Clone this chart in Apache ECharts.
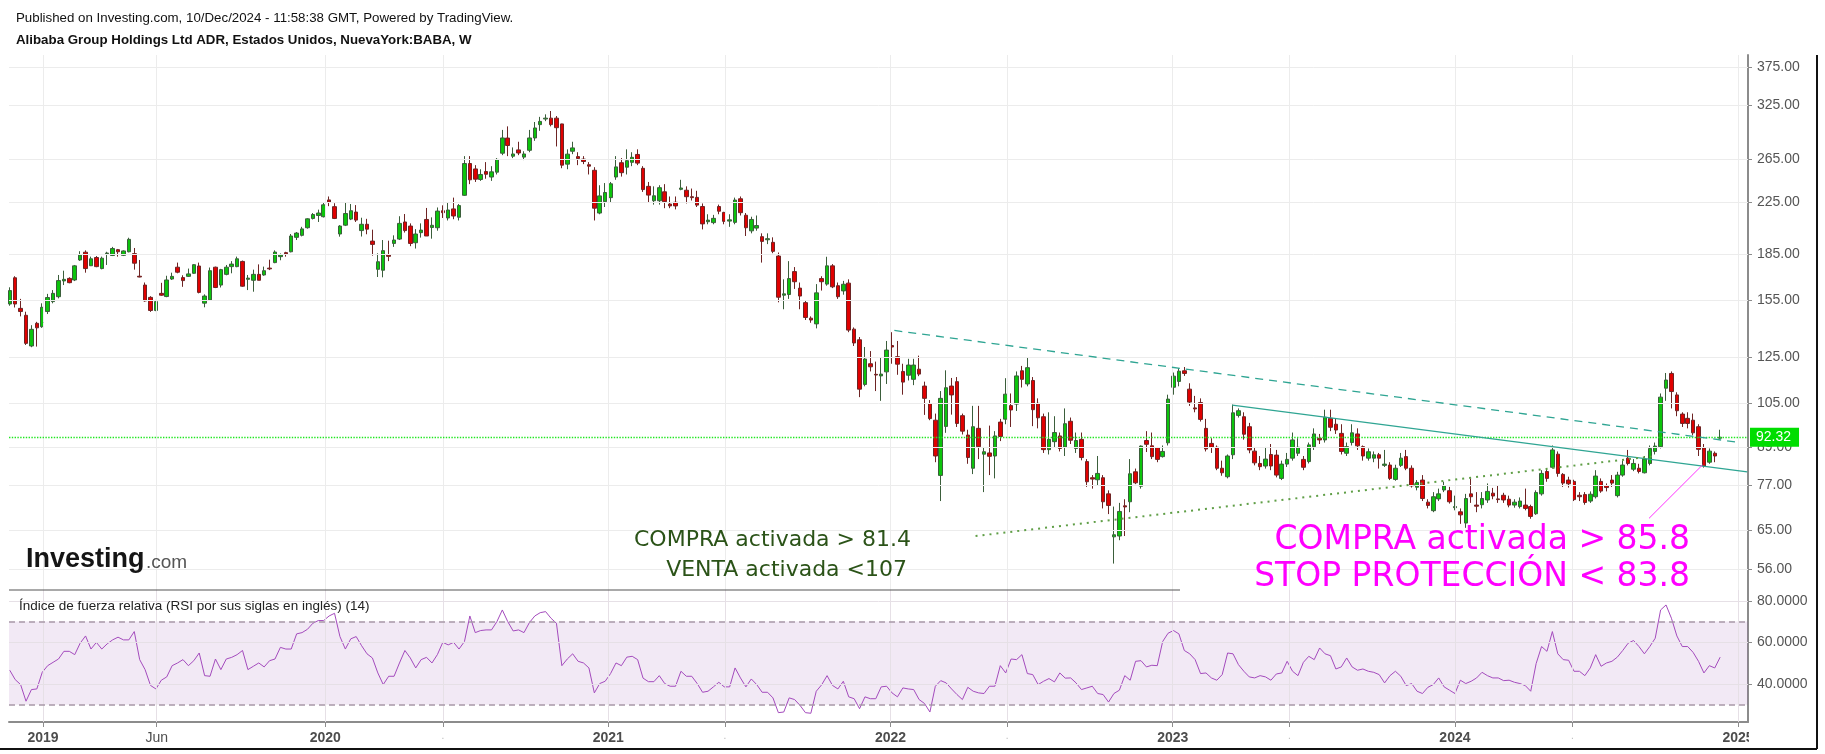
<!DOCTYPE html>
<html><head><meta charset="utf-8">
<script src="https://cdn.jsdelivr.net/npm/echarts@6/dist/echarts.min.js"></script>
<style>html,body{margin:0;padding:0;background:#fff}#c{width:1825px;height:754px}</style>
</head><body><div id="c"></div><script>
// ---- DATA ----
const firstWeek = '2018-11-19';
// weekly candles [open, close, low, high]
const ohlc2018 = [[153,161,152,163],[169,153,151,170],[150.5,148.7,146,156],[146.6,131.8,131,148.6],[130.5,139,129.9,141.2],[142.2,139.8,130.2,143]];
const ohlc2019 = [[140.4,151.1,139.8,153.4],[148.7,156.8,147.3,159],[154.4,159.3,153.4,161.3],[157.3,167.2,156.3,170.8],[167,168,164.4,173.6],[168.6,165.9,165.5,169.3],[167.6,176.8,166.9,177.4],[180.8,184.2,180.2,186.9],[186.2,175,172.3,187.5],[176.9,181.6,176.7,183.1],[182.5,176.3,175.9,183.5],[175,182,174.5,183.1],[185.2,185.6,177.4,186.5],[183.9,188.8,183.5,190],[188,186.5,183.1,188.5],[184,187.1,183.5,187.5],[186.5,195.5,186.1,196.7],[185.2,178.6,174.3,189.2],[170,169.5,169.3,180.8],[164.4,154.8,154.4,166],[156.9,149.3,148.5,157.6],[149.3,154.4,148.9,155.4],[159.3,158.2,157.8,165.8],[157.4,167.6,157,170.3],[168.2,169.9,167.6,172.3],[175.9,172.6,171.9,179],[169.1,167.2,163.3,170.6],[169.9,171.5,169.5,175],[171.9,177.6,171.5,178],[176.7,159.9,159.3,179],[153.5,157.7,151.1,158.7],[155.4,173.6,155,175.7],[175.9,162.9,162.5,176.3],[164.4,174.3,162.9,174.8],[171.2,175.9,170.6,177.4],[176.3,178,171.9,180],[176.3,181.6,175.9,183.1],[179.8,163.7,163.3,180.4],[168,168.8,161.3,170.8],[167.4,171.2,160.3,174.3],[171.2,167.4,167.4,177.8],[170.8,173.6,170.3,176.3],[175.3,174.8,174,181],[179,186.3,178.6,187.5],[183.1,184.3,180.6,185.3],[185.9,185,183.1,186.5],[186.5,198,186.1,199.5],[197,200.2,195,201],[198.5,203.4,197.7,205],[204.3,211.3,203.6,211.8],[211.6,214.8,210.8,216],[214,216,208.8,218.8]];
const ohlc2020 = [[213,222.8,212.4,224.7],[227,225.2,221.7,230],[221.3,211.6,211.1,224.2],[199.5,205.6,197.5,206.3],[206.3,215.6,205.6,224.7],[211.1,217.9,210.3,223.5],[216.8,210.3,208.8,222.6],[202.1,207,197.6,212.2],[207,203.2,199.3,211.3],[194.2,191.8,183.8,202.8],[174.5,179.6,169.5,185.4],[173.9,187.3,169.3,195],[184.2,183.3,180,194.5],[192.5,195,190,198.5],[195.7,207.7,195,213.4],[208.8,202.1,200.6,215.2],[205.6,192.5,190.5,207.7],[193,199.5,188.8,203.2],[200.5,202.5,196.8,207.7],[210.8,198,198,220.2],[204.5,206.2,196,212.5],[204.3,217.6,202,220.6],[217.9,216.3,212,222.4],[212,218.5,210,224.5],[219.4,213.6,211,229],[212.6,222.2,210,223.5],[231,260.6,230.5,268],[260.6,245,241,268],[255.3,245.6,243,259],[245.3,250,244,255],[252.8,250.2,246,262],[247.6,252.5,244,258],[252.2,264.7,250,266],[271,287.1,269,296],[287,279,268,300],[267.9,270.2,266,277],[274.4,271.2,269,283],[267,270.2,264,273],[274,287.1,272,296],[287.1,298.2,284,305],[302,305.7,295,311],[308.5,309.5,306,314],[309.5,302,300,318],[309.5,298.5,278,312],[302.8,259,256,303],[260,270,255,275],[273,276.5,270,283],[267.5,265.5,259,272],[265,262.6,260,268],[259.4,258,250,262],[254,220,210,257],[216,230.5,215,240]];
const ohlc2021 = [[225.5,233.5,221,242],[229,241.3,225,243],[247.6,257.3,245,268],[261.4,251.7,248,266],[257,263.4,250,275],[261.8,266.8,258,272],[269.7,261,259,275],[255.9,236.1,234,258],[239,231.2,225,243],[226.3,230.6,223,239],[226.3,237.8,223,240],[234.1,225.5,220,241],[223.5,221.9,220,230],[225,221.9,219,230],[236.3,237.5,235.5,245],[235.5,229.8,224,239],[229.8,229,226.5,237],[229.2,222.6,221,235],[221.4,207.3,203,224],[209,210.3,207,215],[208.3,211.7,207,214.5],[221.4,217.5,215,223],[216.5,209.3,207,217],[209.5,210.5,205,215],[208.5,226.9,207,229],[228,216.3,214,230],[214.2,204.3,198,216],[201.9,210.8,200,213],[204,206,202,214],[197.5,194,179,200],[195.2,196,192,200],[193.3,186.8,185.5,197],[183.5,157,154,186],[158.2,159,150,168],[158.6,168.5,156,180],[173,166.5,162,176],[162.5,157.7,150,166],[153.8,145.4,144,155],[145,144,142.5,146],[141.9,159.6,139.5,165],[168.5,166.5,161,170],[165,176.8,164,183],[176.8,163.3,162.5,178],[164,157.3,156,166],[160.8,164.9,158.5,167],[165.6,138.6,137.5,168],[139.1,132,130.5,140],[133.6,110.8,107.5,135],[112.8,124.2,112,130],[122,120.6,118.5,128],[117.2,116.9,110,123],[116.5,117.3,106,125],[118.3,128.5,113,133]];
const ohlc2022 = [[130.7,130,122,137.5],[125.3,121.8,117,133],[118.5,113.8,108.5,122],[116.8,121.4,114.5,124.3],[115,121.4,112.5,124.3],[119.5,117.3,116.4,125.8],[112.1,107,100.5,114],[104.9,99.1,98.5,106.3],[98.5,86,84,101],[79.9,107,72.5,110],[96.2,111.4,93.9,119],[112.1,108.4,100.6,115.6],[114,97.3,96,116],[100.2,94.5,93.3,101],[93.1,85.5,83.5,95],[82.1,96.1,80.3,104],[95.5,89.1,85,104],[86.6,87.4,75,89],[87,85.9,80,96.5],[86,92.8,79,94.5],[97.8,92.6,91,99],[98.9,108.7,97,115.5],[104.1,102.4,96,109],[104.7,116.5,102,118.5],[118.8,115,111.5,121],[113,120.2,112,125],[114.5,102.5,96.3,116],[105,99.4,95.5,107],[99.8,88.1,87,101],[88.1,91.6,86.5,101.5],[90.8,94,89,100],[92.8,88.5,87.5,94],[89,97.2,86,103],[98.1,91.3,90,99.5],[88.5,91.2,87,94],[91.6,85.5,84.6,94],[84.2,78,76.5,85],[79.2,78.8,76,80],[78.6,80.5,77,86],[79.2,72.3,70.5,80],[74.5,71.3,69,75.5],[63.3,63.8,57.2,71],[63.5,69.7,62.5,72],[71.2,70.9,63.5,73],[72.3,80.4,69.5,85],[81,77.7,77.3,82],[76.7,89.3,76,89.5],[91.2,89.9,87.3,94.5],[89.4,85.8,85,94],[88.8,84.9,84,89],[85.8,87.5,85.5,89.5],[90.4,106.7,89.5,108.5]];
const ohlc2023 = [[111.6,116.4,108.5,118],[114.1,118.6,112,120],[118.8,117.6,116.5,120.5],[110.8,105.5,104,113.3],[103.2,102.8,101.5,108],[105.3,98.8,98,107],[95.5,88.3,87.5,99],[90.2,88.9,87,92],[88.9,82.1,81.5,89.5],[82.1,80.7,79.8,84.5],[79.5,86,79,86.5],[86.4,101.3,85,104.5],[100.3,102.1,99.5,103],[99.8,93.4,91.5,101.5],[96.1,88,86.9,97.5],[87.6,83.8,83,89],[83.6,82.6,81.5,86],[82.8,85,82,89],[86.5,82.8,81.5,90],[86.3,80,79.3,88],[79,83.4,78.5,84.5],[83.4,84.9,82.5,87],[85.3,91.4,84.5,94],[86.9,88.9,86,92],[84.9,82.4,81.5,86],[84.2,89.7,83.6,90.5],[89.1,93.5,88,95.5],[92,91.4,90,93.5],[91.4,99.6,90.5,102.5],[99.2,95.9,94.5,102.5],[97,94.9,93.5,99],[93.7,87.5,86.5,97],[86.9,89.1,86,90.5],[90.5,93.9,89.5,97],[93.5,89.4,88,95.5],[89.1,86,84.5,89.5],[85.3,87.4,84.5,88.5],[85.3,86.4,84,87.5],[86.4,85.3,82,87],[83,83.4,82.5,88],[83.1,79,78.5,84],[78.7,82.1,78.3,83.2],[83,85.3,82.5,87],[85.8,82.1,81.5,88],[82.1,76.8,76.3,83],[76.4,77.8,75.5,78.5],[78.5,73.2,72.5,80],[72.2,71.3,70.5,73],[69.9,73.7,69.5,75],[73.1,74.5,72.5,76],[75.6,76.8,75,78],[75.4,72.3,71.8,76.5]];
const ohlc2024 = [[70.7,71,70,74],[69.6,68.8,66.5,70.5],[66.7,73.2,65.5,74.5],[74.5,73.7,72,79],[71.4,71.1,69.5,75],[71.5,73.2,70.5,75],[72.8,75.2,72,77.5],[74.7,73.9,73,76.2],[73.1,72.9,72,77],[74.1,72.8,72,74.8],[73,71.4,70.8,74],[71.4,72.2,70.7,73],[71,72.5,70.5,73.5],[71.4,70.5,70,76],[71,68.4,67.8,71.5],[69.1,74.9,68.8,75.5],[74.5,80.5,74,81.5],[81.1,79,78,82],[82.4,88,82,89.5],[86.6,80.5,79.5,87.5],[80.2,77.6,76.5,80.6],[78.5,77.4,76.3,79.5],[78.1,72.9,72.5,78.6],[74.1,73.7,72.5,75],[74.3,72.1,71.5,75],[72.5,74.4,72,75.2],[73.7,79.7,73.2,81.5],[78.1,75.3,74.8,79],[76.9,76.3,75.2,77.5],[78.5,77.6,76.5,80],[74,80,73.5,81],[80,83.1,79.5,84.5],[85.3,83.6,83,88],[81.8,83.6,81.2,85],[82.1,81.1,80.5,83.5],[80.7,85,80.5,86],[83.6,88.5,83,89.5],[87.5,89.3,86.5,90.5],[89.1,107.5,88.5,109],[111.2,114.7,106,117.8],[117.6,109.8,103,118.5],[108.4,102.1,100,109.5],[100.8,97.3,96,101.5],[99.2,97.3,95.5,101.5],[98.5,93.9,93,101],[96.1,88.2,86,97],[88.7,82.8,82.3,90],[84,87.6,83.5,88.5],[86.9,86,84,87.5],[92,92.32,91.8,95]];
// RSI(14) weekly
const rsi2018 = [46.6,42.1,39.7,31.7,37.3,37.6];
const rsi2019 = [45.6,48.8,50.4,52.0,55.7,55.7,54.1,59.6,63.1,56.8,60.0,56.8,59.3,61.2,62.5,61.2,61.2,65.2,51.7,46.9,39.3,37.6,41.8,43.4,48.8,50.1,51.7,48.8,51.2,54.9,44.0,43.7,52.0,46.9,52.0,52.8,54.1,56.1,46.9,48.5,50.1,48.2,51.2,52.0,57.6,56.8,56.8,64.1,64.7,66.3,69.2,70.5];
const rsi2020 = [70.5,72.7,74.0,62.8,56.8,61.7,62.8,58.4,54.5,52.5,45.3,39.7,43.7,43.7,50.1,56.1,52.5,47.7,51.7,52.8,50.1,54.1,60.0,58.8,60.0,56.8,60.4,72.7,64.7,65.7,66.0,66.0,70.0,75.6,70.0,65.5,66.0,64.7,69.5,72.7,74.3,74.8,71.6,69.2,48.8,52.0,54.5,50.9,50.1,47.7,35.7,40.2];
const rsi2021 = [41.3,45.0,50.1,48.8,52.9,53.3,51.7,42.8,41.1,41.1,44.0,40.2,38.9,38.9,46.1,43.7,43.7,40.2,36.0,36.5,38.6,40.8,38.6,38.6,47.7,42.9,38.6,42.4,39.7,36.0,36.0,33.3,26.2,26.5,33.3,32.5,29.7,26.2,25.9,36.5,39.6,44.0,39.3,37.6,41.3,33.8,32.9,28.1,33.8,32.9,32.9,38.6,38.9];
const rsi2022 = [35.7,33.8,38.1,37.6,37.3,32.5,30.6,26.5,38.9,41.6,40.5,37.6,34.9,32.5,38.4,36.5,35.7,35.4,38.9,38.9,48.8,45.3,52.0,51.7,54.1,45.0,44.5,39.7,41.3,42.6,41.0,45.3,42.8,42.9,40.5,37.3,38.1,38.9,35.4,34.9,31.3,35.4,37.0,44.0,41.8,50.9,51.2,48.2,49.0,48.8,60.4,64.4];
const rsi2023 = [65.7,64.1,56.1,54.5,51.7,45.0,45.3,42.9,41.8,44.5,54.9,54.5,49.3,46.1,43.4,42.9,44.0,43.4,41.8,44.8,45.3,50.9,46.1,44.0,50.4,53.3,51.7,57.3,54.5,53.6,47.2,48.2,52.5,48.2,46.6,47.2,46.1,45.6,44.5,40.5,44.0,46.1,43.7,39.2,40.2,36.5,35.4,38.4,39.7,42.9,38.6,37.0];
const rsi2024 = [35.4,41.8,40.2,41.3,42.9,45.6,44.0,42.9,42.9,41.6,41.8,40.8,40.2,39.2,36.5,49.8,58.0,55.7,65.2,54.5,51.7,51.4,46.1,46.1,44.0,47.7,54.1,48.5,50.1,50.9,52.9,56.1,59.6,60.9,58.0,54.5,58.0,62.0,75.6,78.0,71.6,63.1,58.0,58.0,55.2,50.9,45.3,48.8,47.7,52.9];
// axes / ticks
const priceTicks = [56,65,77,89,105,125,155,185,225,265,325,375];
const rsiTicks = [40,60,80];
const rsiBands = [30,70];
const xTickDates = ['2019-01-01','2019-05-28','2020-01-01','2020-06-01','2021-01-01','2021-06-01','2022-01-01','2022-06-01','2023-01-01','2023-06-01','2024-01-01','2024-06-01','2025-01-01'];
const xTickTexts = ['2019','Jun','2020','.','2021','.','2022','.','2023','.','2024','.','2025'];
const lastPrice = 92.32;
// drawn trend lines [date, price]
const lineResistance = [['2022-01-06',138.4],['2025-01-04',90.5]];
const lineChannel = [['2023-03-19',104.3],['2025-01-13',81.0]];
const lineSupport = [['2022-04-21',63.5],['2024-09-16',86.0]];
const linePointer = [['2024-09-08',67.9],['2024-11-16',83.1]];

// ---- BUILD ----
function ts(s){const p=s.split('-');return Date.UTC(+p[0],+p[1]-1,+p[2]);}
const allOhlc = [].concat(ohlc2018,ohlc2019,ohlc2020,ohlc2021,ohlc2022,ohlc2023,ohlc2024);
const allRsi = [].concat(rsi2018,rsi2019,rsi2020,rsi2021,rsi2022,rsi2023,rsi2024);
const WEEK = 7*86400000;
const t0 = ts(firstWeek);
const dates = allOhlc.map((_,i)=>t0+WEEK*i);
const candleData = allOhlc.map((c,i)=>[dates[i],c[0],c[1],c[2],c[3]]);
const rsiData = allRsi.map((v,i)=>[dates[i],v]);
const xTickTs = xTickDates.map(ts);
const toTs = arr => arr.map(p=>[ts(p[0]),p[1]]);
function xLabel(v){let k=-1;for(let i=0;i<xTickTs.length;i++){if(Math.abs(xTickTs[i]-v)<86400000)k=i;}if(k<0)return '';const t=xTickTexts[k];return /^\d/.test(t)?'{b|'+t+'}':(t==='.'?'{d|.}':'{n|'+t+'}');}

const FONT = '"Liberation Sans", Arial, sans-serif';
const gridColor = '#ececec';
const xMin = ts('2018-11-18'), xMax = ts('2025-01-14');

const chart = echarts.init(document.getElementById('c'), null, {renderer:'canvas'});
chart.setOption({
  animation:false,
  backgroundColor:'#ffffff',
  textStyle:{fontFamily:FONT},
  grid:[{left:9,right:77,top:55,height:535},{left:9,right:77,top:590,height:132}],
  xAxis:[
    {type:'value',gridIndex:0,min:xMin,max:xMax,axisLine:{show:false},axisTick:{show:false},axisLabel:{show:false},splitLine:{show:false}},
    {type:'value',gridIndex:1,min:xMin,max:xMax,
     axisLine:{show:true,onZero:false,lineStyle:{color:'#8c8c8c',width:2}},
     axisTick:{show:true,customValues:xTickTs,length:5,lineStyle:{color:'#8c8c8c',width:1}},
     axisLabel:{show:true,customValues:xTickTs,formatter:xLabel,margin:9,
       rich:{b:{fontWeight:'bold',fontSize:14,color:'#4d4d4d',fontFamily:FONT},n:{fontSize:14,color:'#4d4d4d',fontFamily:FONT},d:{fontSize:10,color:'#bbbbbb'}}},
     splitLine:{show:false}}
  ],
  yAxis:[
    {type:'log',logBase:10,gridIndex:0,position:'right',min:51.75,max:393.2,
     axisLine:{show:true,lineStyle:{color:'#8c8c8c',width:2}},
     axisTick:{show:true,customValues:priceTicks,length:4,lineStyle:{color:'#8c8c8c'}},
     axisLabel:{customValues:priceTicks,formatter:v=>Number(v).toFixed(2),color:'#555',fontSize:14,margin:9},
     splitLine:{show:false}},
    {type:'value',gridIndex:1,position:'right',min:21.7,max:85.2,
     axisLine:{show:true,lineStyle:{color:'#8c8c8c',width:2}},
     axisTick:{show:true,customValues:rsiTicks,length:4,lineStyle:{color:'#8c8c8c'}},
     axisLabel:{customValues:rsiTicks,formatter:v=>Number(v).toFixed(4),color:'#555',fontSize:14,margin:9},
     splitLine:{show:false}}
  ],
  series:[
    {type:'line',xAxisIndex:0,yAxisIndex:0,data:[],z:1,silent:true,
     markLine:{silent:true,symbol:'none',label:{show:false},lineStyle:{color:gridColor,type:'solid',width:1},
       data:priceTicks.map(v=>({yAxis:v})).concat(xTickTs.map(d=>({xAxis:d})))}},
    {type:'line',xAxisIndex:1,yAxisIndex:1,data:[],z:1,silent:true,
     markLine:{silent:true,symbol:'none',label:{show:false},lineStyle:{color:'#e6e0e6',type:'solid',width:1},
       data:rsiTicks.map(v=>({yAxis:v})).concat(xTickTs.map(d=>({xAxis:d})))}},
    {type:'candlestick',xAxisIndex:0,yAxisIndex:0,data:candleData,encode:{x:0,y:[1,2,3,4]},barWidth:4,z:3,
     itemStyle:{color:'#0cc40c',color0:'#e00000',borderColor:'#3b5e3b',borderColor0:'#6e2424',borderWidth:1}},
    {type:'line',xAxisIndex:0,yAxisIndex:0,data:[],z:4,silent:true,
     markLine:{silent:true,symbol:'none',
       data:[{yAxis:lastPrice,lineStyle:{color:'#22e622',type:'dotted',width:1.4},
         label:{show:true,position:'end',formatter:String(lastPrice),color:'#fff',backgroundColor:'#00dd00',padding:[3,8,2,6],fontSize:14,distance:2}}]}},
    {type:'line',xAxisIndex:0,yAxisIndex:0,data:toTs(lineResistance),showSymbol:false,z:5,silent:true,
     lineStyle:{color:'#2fa593',width:1.3,type:[8,6]}},
    {type:'line',xAxisIndex:0,yAxisIndex:0,data:toTs(lineChannel),showSymbol:false,z:5,silent:true,
     lineStyle:{color:'#2fa593',width:1.3,type:'solid'}},
    {type:'line',xAxisIndex:0,yAxisIndex:0,data:toTs(lineSupport),showSymbol:false,z:5,silent:true,
     lineStyle:{color:'#5f9e46',width:2,type:[2,5]}},
    {type:'line',xAxisIndex:0,yAxisIndex:0,data:toTs(linePointer),showSymbol:false,z:5,silent:true,
     lineStyle:{color:'#ff33ff',width:1,type:'solid'}},
    {type:'line',xAxisIndex:1,yAxisIndex:1,data:rsiData,showSymbol:false,z:4,silent:true,
     lineStyle:{color:'#a44bbd',width:1},
     markArea:{silent:true,itemStyle:{color:'rgba(150,70,170,0.12)'},data:[[{yAxis:rsiBands[0]},{yAxis:rsiBands[1]}]]},
     markLine:{silent:true,symbol:'none',label:{show:false},lineStyle:{color:'#a898a8',type:[6,4],width:1.5},
       data:rsiBands.map(v=>({yAxis:v}))}}
  ],
  graphic:[
    {type:'text',left:16,top:12,style:{text:'Published on Investing.com, 10/Dec/2024 - 11:58:38 GMT, Powered by TradingView.',font:'13.3px '+FONT,fill:'#111'}},
    {type:'text',left:16,top:34,style:{text:'Alibaba Group Holdings Ltd ADR, Estados Unidos, NuevaYork:BABA, W',font:'bold 13.3px '+FONT,fill:'#111'}},
    {type:'line',shape:{x1:9,y1:590,x2:1180,y2:590},style:{stroke:'#555',lineWidth:1.2},z:50},
    {type:'line',shape:{x1:1817,y1:55,x2:1817,y2:749},style:{stroke:'#111',lineWidth:2},z:50},
    {type:'line',shape:{x1:0,y1:749,x2:1817,y2:749},style:{stroke:'#111',lineWidth:2},z:50},
    {type:'rect',shape:{x:1749,y:726,width:66,height:20},style:{fill:'#fff'},z:60},
    {type:'text',x:26,y:560,style:{text:'Investing',font:'bold 27px '+FONT,fill:'#151515',textVerticalAlign:'middle'},z:60},
    {type:'text',x:146,y:563,style:{text:'.com',font:'19px '+FONT,fill:'#555',textVerticalAlign:'middle'},z:60},
    {type:'text',x:19,y:606,style:{text:'Índice de fuerza relativa (RSI por sus siglas en inglés) (14)',font:'13.5px '+FONT,fill:'#222',textVerticalAlign:'middle'},z:60},
    {type:'text',x:911,y:540,style:{text:'COMPRA activada > 81.4',font:'22px "DejaVu Sans", sans-serif',fill:'#2b5318',textAlign:'right',textVerticalAlign:'middle'},z:60},
    {type:'text',x:907,y:570,style:{text:'VENTA activada <107',font:'22px "DejaVu Sans", sans-serif',fill:'#2b5318',textAlign:'right',textVerticalAlign:'middle'},z:60},
    {type:'text',x:1690,y:540,style:{text:'COMPRA activada > 85.8',font:'33px "DejaVu Sans", sans-serif',fill:'#ff00ff',textAlign:'right',textVerticalAlign:'middle'},z:60},
    {type:'text',x:1690,y:577,style:{text:'STOP PROTECCIÓN < 83.8',font:'33px "DejaVu Sans", sans-serif',fill:'#ff00ff',textAlign:'right',textVerticalAlign:'middle'},z:60}
  ]
});
</script></body></html>
